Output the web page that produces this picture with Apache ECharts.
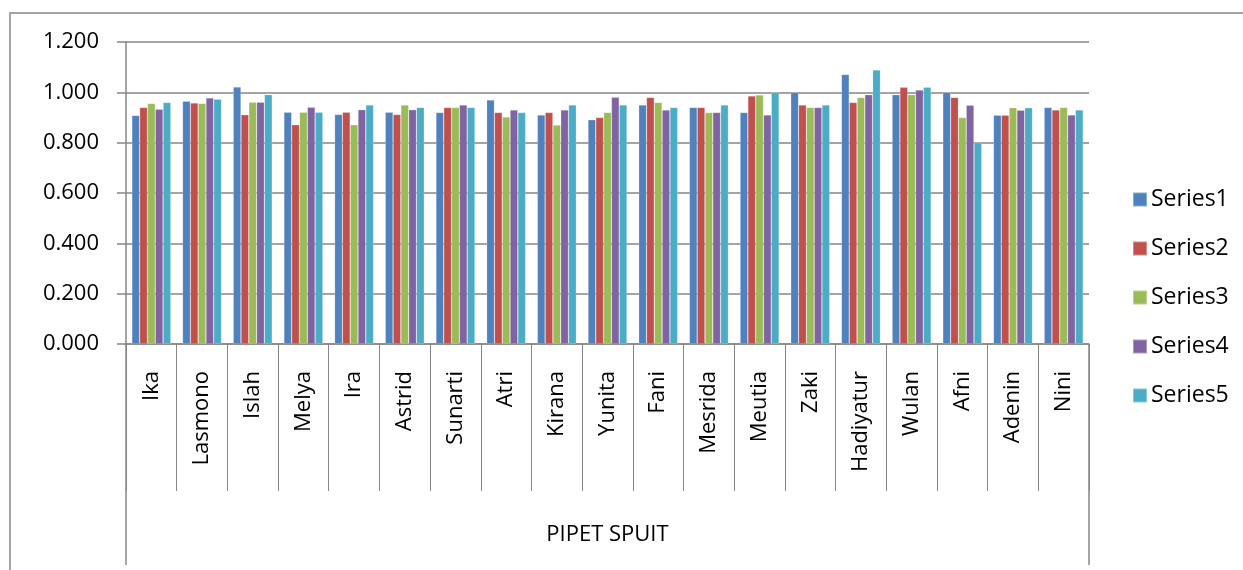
<!DOCTYPE html>
<html>
<head>
<meta charset="utf-8">
<script src="https://cdn.jsdelivr.net/npm/echarts@6/dist/echarts.min.js"></script>
<style>
html,body{margin:0;padding:0;background:#fff;}
#chart{width:1243px;height:570px;}
</style>
</head>
<body>
<div id="chart"></div>
<script>
var categories = ['Ika','Lasmono','Islah','Melya','Ira','Astrid','Sunarti','Atri','Kirana','Yunita','Fani','Mesrida','Meutia','Zaki','Hadiyatur','Wulan','Afni','Adenin','Nini'];
var groupLabel = ['PIPET SPUIT'];
var seriesNames = ['Series1','Series2','Series3','Series4','Series5'];
var series1 = [0.908,0.965,1.021,0.921,0.912,0.921,0.920,0.970,0.910,0.891,0.950,0.940,0.920,1.000,1.071,0.991,1.000,0.909,0.940];
var series2 = [0.940,0.958,0.911,0.871,0.921,0.912,0.940,0.920,0.920,0.900,0.980,0.940,0.986,0.950,0.960,1.020,0.980,0.909,0.930];
var series3 = [0.956,0.956,0.961,0.921,0.871,0.950,0.940,0.902,0.870,0.920,0.960,0.920,0.990,0.940,0.980,0.991,0.900,0.939,0.940];
var series4 = [0.933,0.978,0.961,0.941,0.931,0.931,0.950,0.930,0.930,0.981,0.930,0.920,0.910,0.940,0.991,1.009,0.949,0.929,0.910];
var series5 = [0.960,0.973,0.991,0.921,0.950,0.940,0.940,0.920,0.950,0.950,0.940,0.950,1.000,0.950,1.089,1.020,0.800,0.939,0.930];
var allSeries = [series1, series2, series3, series4, series5];
var colors = ['#4F81BD','#C0504D','#9BBB59','#8064A2','#4BACC6'];

var FONT = '"Open Sans", "Liberation Sans", sans-serif';
var GRAY = '#868686';

var chart = echarts.init(document.getElementById('chart'), null, {renderer: 'canvas'});
var option = {
  animation: false,
  backgroundColor: '#fff',
  color: colors,
  textStyle: {fontFamily: FONT},
  grid: {left: 126, right: 154, top: 42, bottom: 226, containLabel: false},
  legend: {
    orient: 'vertical',
    left: 1132,
    top: 188,
    padding: 0,
    itemWidth: 14,
    itemHeight: 14,
    itemGap: 26,
    icon: 'rect',
    data: seriesNames,
    textStyle: {fontFamily: FONT, fontSize: 23, color: '#000', lineHeight: 22, padding: [0,0,0,-1]}
  },
  xAxis: [
    {
      type: 'category',
      data: categories,
      position: 'bottom',
      boundaryGap: true,
      axisLine: {show: true, lineStyle: {color: GRAY, width: 1.5}},
      axisTick: {show: true, interval: 0, length: 147, lineStyle: {color: GRAY, width: 1}},
      axisLabel: {interval: 0, rotate: 90, margin: 27, color: '#000', fontFamily: FONT, fontSize: 22},
      splitLine: {show: false}
    },
    {
      type: 'category',
      data: groupLabel,
      position: 'bottom',
      boundaryGap: true,
      axisLine: {show: false},
      axisTick: {show: true, length: 221, lineStyle: {color: GRAY, width: 1.5}},
      axisLabel: {interval: 0, margin: 180, color: '#000', fontFamily: FONT, fontSize: 22, verticalAlign: 'top'},
      splitLine: {show: false}
    }
  ],
  yAxis: {
    type: 'value',
    min: 0,
    max: 1.2,
    interval: 0.2,
    axisLine: {show: true, lineStyle: {color: GRAY, width: 1.5}},
    axisTick: {show: true, length: 9, lineStyle: {color: GRAY, width: 1.5}},
    axisLabel: {margin: 27, color: '#000', fontFamily: FONT, fontSize: 22, formatter: function (v) { return v.toFixed(3); }},
    splitLine: {show: true, lineStyle: {color: GRAY, width: 1.5}}
  },
  graphic: [
    {type: 'rect', silent: true, z: -1, shape: {x: 10, y: 13, width: 1400, height: 700}, style: {fill: 'none', stroke: GRAY, lineWidth: 1.5}}
  ],
  series: seriesNames.map(function (name, i) {
    return {
      name: name,
      type: 'bar',
      xAxisIndex: 0,
      data: allSeries[i],
      barGap: '0%',
      barCategoryGap: '23%',
      itemStyle: {color: colors[i], borderColor: 'rgba(255,255,255,0.35)', borderWidth: 0.6}
    };
  })
};
chart.setOption(option);
</script>
</body>
</html>
